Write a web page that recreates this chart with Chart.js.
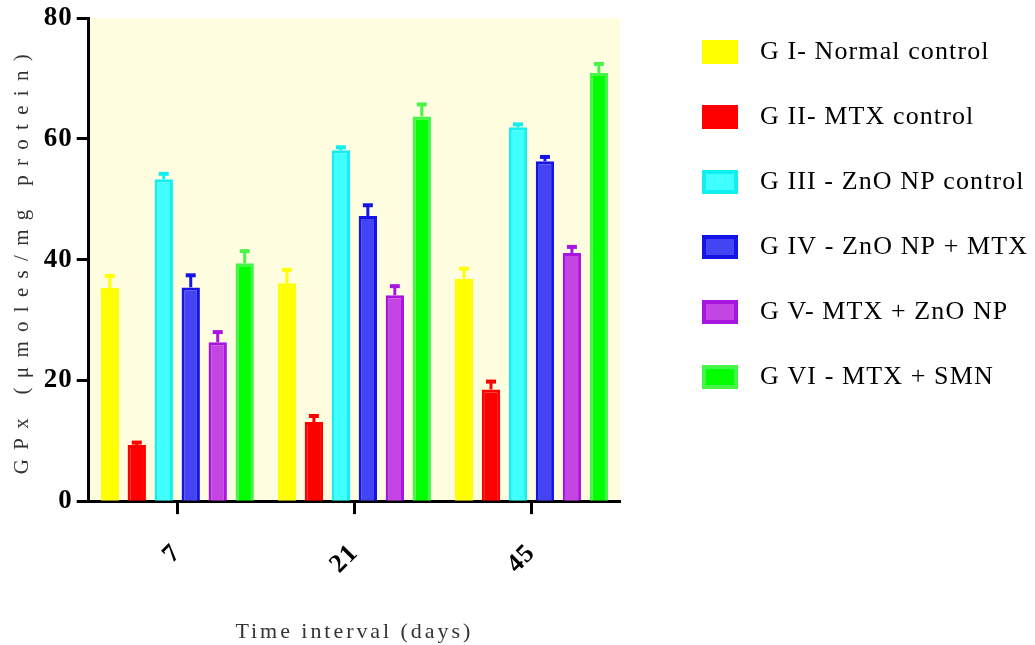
<!DOCTYPE html>
<html>
<head>
<meta charset="utf-8">
<script src="https://cdn.jsdelivr.net/npm/chart.js@4/dist/chart.umd.min.js"></script>
<style>
  body { margin: 0; background: #fff; }
</style>
</head>
<body>
<canvas id="gpx-chart" width="1035" height="645"></canvas>
<script>
// data
let days = ['7', '21', '45'];
let groupNames = ['G I- Normal control', 'G II- MTX control', 'G III - ZnO NP control',
  'G IV - ZnO NP + MTX', 'G V- MTX + ZnO NP', 'G VI - MTX + SMN'];
let gI = [35.3, 36.1, 36.8];
let gII = [9.3, 13.1, 18.5];
let gIII = [53.3, 58.1, 61.9];
let gIV = [35.4, 47.2, 56.3];
let gV = [26.3, 34.1, 41.1];
let gVI = [39.4, 63.7, 70.9];
let errI = [2.0, 2.2, 1.7];
let errII = [0.4, 1.0, 1.3];
let errIII = [0.9, 0.5, 0.5];
let errIV = [2.0, 1.8, 0.7];
let errV = [1.7, 1.5, 1.0];
let errVI = [2.0, 2.0, 1.5];
let yTicks = [0, 20, 40, 60, 80];

let fills = ['#FFFF00', '#FF0000', '#40FFFF', '#4444F4', '#C444E4', '#00FF00'];
let edges = ['#FFFF00', '#FF0000', '#10F0F0', '#1414E8', '#A814E0', '#48F448'];

const LEGEND_SPACING = '1.1px';

// scales that let the titles carry their own letter spacing
class SpacedCategory extends Chart.CategoryScale {
  drawTitle() {
    this.ctx.save();
    this.ctx.letterSpacing = this.options.title.letterSpacing || '0px';
    super.drawTitle();
    this.ctx.restore();
  }
  drawLabels(area) {
    this.ctx.save();
    this.ctx.letterSpacing = '1px';
    super.drawLabels(area);
    this.ctx.restore();
  }
}
SpacedCategory.id = 'spacedCategory';
SpacedCategory.defaults = Chart.CategoryScale.defaults;

class SpacedLinear extends Chart.LinearScale {
  drawTitle() {
    this.ctx.save();
    this.ctx.letterSpacing = this.options.title.letterSpacing || '0px';
    super.drawTitle();
    this.ctx.restore();
  }
  drawLabels(area) {
    this.ctx.save();
    this.ctx.letterSpacing = '1px';
    super.drawLabels(area);
    this.ctx.restore();
  }
}
SpacedLinear.id = 'spacedLinear';
SpacedLinear.defaults = Chart.LinearScale.defaults;

Chart.register(SpacedCategory, SpacedLinear);

// legend swatch, drawn on the right side of a wider transparent image
function swatch(fill, edge) {
  let c = document.createElement('canvas');
  c.width = 70; c.height = 24;
  let g = c.getContext('2d');
  g.fillStyle = edge;
  g.fillRect(34, 0, 36, 24);
  g.fillStyle = fill;
  g.fillRect(38, 4, 28, 16);
  return c;
}

let plotBg = {
  id: 'plotBg',
  beforeDraw(chart) {
    let a = chart.chartArea, ctx = chart.ctx;
    ctx.save();
    ctx.fillStyle = '#FFFDE0';
    ctx.fillRect(a.left, a.top, a.right - a.left, a.bottom - a.top);
    ctx.restore();
    ctx.letterSpacing = LEGEND_SPACING;
  }
};

let errorBars = {
  id: 'errorBars',
  afterDatasetsDraw(chart) {
    let ctx = chart.ctx, y = chart.scales.y;
    chart.data.datasets.forEach((ds, i) => {
      let meta = chart.getDatasetMeta(i);
      meta.data.forEach((bar, j) => {
        let top = y.getPixelForValue(ds.data[j] + ds.errors[j]);
        ctx.save();
        ctx.strokeStyle = ds.borderColor;
        ctx.lineWidth = 3;
        ctx.beginPath();
        ctx.moveTo(bar.x, bar.y);
        ctx.lineTo(bar.x, top);
        ctx.stroke();
        ctx.lineWidth = 4;
        ctx.beginPath();
        ctx.moveTo(bar.x - 5, top);
        ctx.lineTo(bar.x + 5, top);
        ctx.stroke();
        ctx.restore();
      });
    });
  }
};

let values = [gI, gII, gIII, gIV, gV, gVI];
let errors = [errI, errII, errIII, errIV, errV, errVI];

let gpxChart = new Chart(document.getElementById('gpx-chart').getContext('2d'), {
  type: 'bar',
  data: {
    labels: days,
    datasets: groupNames.map((name, i) => ({
      label: name,
      data: values[i],
      errors: errors[i],
      backgroundColor: fills[i],
      borderColor: edges[i],
      borderWidth: 3,
      borderSkipped: 'start',
      categoryPercentage: 0.914,
      barPercentage: 0.68
    }))
  },
  options: {
    responsive: false,
    animation: false,
    layout: { padding: 0 },
    plugins: {
      tooltip: { enabled: false },
      legend: {
        position: 'right',
        align: 'start',
        maxWidth: 415,
        labels: {
          usePointStyle: true,
          pointStyleWidth: 88,
          boxHeight: 24,
          padding: 39,
          color: '#333',
          font: { family: 'Liberation Serif', size: 26 },
          generateLabels(chart) {
            return chart.data.datasets.map((ds, i) => ({
              text: ds.label,
              fillStyle: fills[i],
              strokeStyle: edges[i],
              lineWidth: 0,
              pointStyle: swatch(fills[i], edges[i]),
              hidden: false,
              datasetIndex: i
            }));
          }
        }
      }
    },
    scales: {
      x: {
        type: 'spacedCategory',
        offset: true,
        grid: { offset: false, drawOnChartArea: false, drawTicks: true, tickLength: 13, tickWidth: 3, color: '#000' },
        border: { display: true, width: 3, color: '#000' },
        ticks: {
          minRotation: 45, maxRotation: 45, padding: 24, color: '#000',
          font: { family: 'Liberation Serif', weight: 'bold', size: 26 }
        },
        title: {
          display: true, text: 'Time interval (days)', color: '#333',
          letterSpacing: '2.95px',
          font: { family: 'Liberation Serif', size: 22 },
          padding: { top: 16, bottom: 0 }
        }
      },
      y: {
        type: 'spacedLinear',
        min: 0, max: 80,
        afterBuildTicks(scale) { scale.ticks = yTicks.map(v => ({ value: v })); },
        grid: { drawOnChartArea: false, drawTicks: true, tickLength: 12, tickWidth: 3, color: '#000' },
        border: { display: true, width: 3, color: '#000' },
        ticks: {
          padding: 4, color: '#000',
          font: { family: 'Liberation Serif', weight: 'bold', size: 27, lineHeight: 1.04 }
        },
        title: {
          display: true, text: 'GPx (μmoles/mg protein)', color: '#333',
          letterSpacing: '9.3px',
          font: { family: 'Liberation Serif', size: 21 },
          padding: { top: 10, bottom: 6.5 }
        }
      }
    }
  },
  plugins: [plotBg, errorBars]
});

// the canvas resize wipes the context state; measure the legend again with its spacing
gpxChart.ctx.letterSpacing = LEGEND_SPACING;
gpxChart.update();
</script>
</body>
</html>
